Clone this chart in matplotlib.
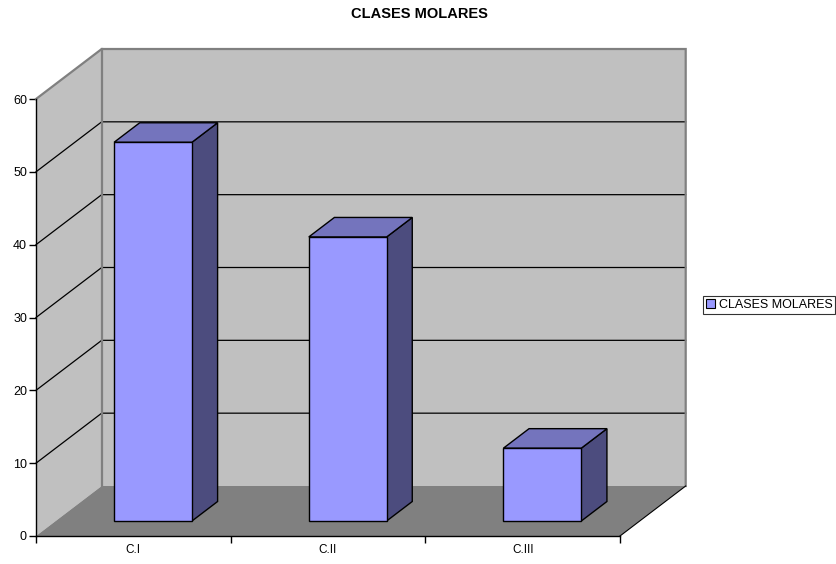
import matplotlib
matplotlib.use("Agg")
import matplotlib.pyplot as plt
from matplotlib.patches import Polygon, Patch

plt.rcParams['font.family'] = ['Liberation Sans', 'DejaVu Sans']

categories = ['C.I', 'C.II', 'C.III']
values = [52, 39, 10]
yticks = [0, 10, 20, 30, 40, 50, 60]
title = 'CLASES MOLARES'

# oblique depth offset (in data units) for the fake 3D box
DX, DY = 0.3375, 6.865
BAR_D0, BAR_D1 = 0.30, 0.69   # bar front/back depth fraction
BAR_W = 0.40

wall_c = '#c0c0c0'
floor_c = '#808080'
front_c = '#9999ff'
top_c = '#7474bd'
side_c = '#4c4c7e'


def proj(x, y, d):
    return (x + d * DX, y + d * DY)


fig = plt.figure(figsize=(8.37, 5.64), dpi=100)
ax = fig.add_axes([36 / 837, 28 / 564, 584 / 837, 437 / 564])
ax.set_facecolor('none')
ncat = len(categories)
ymax = yticks[-1]
ax.set_xlim(0, ncat)
ax.set_ylim(0, ymax)

# walls and floor
back = [proj(0, 0, 1), proj(ncat, 0, 1), proj(ncat, ymax, 1), proj(0, ymax, 1)]
left = [proj(0, 0, 0), proj(0, ymax, 0), proj(0, ymax, 1), proj(0, 0, 1)]
floor = [proj(0, 0, 0), proj(ncat, 0, 0), proj(ncat, 0, 1), proj(0, 0, 1)]
for pts, c in [(back, wall_c), (left, wall_c)]:
    ax.add_patch(Polygon(pts, closed=True, fc=c, ec='none', clip_on=False, zorder=1))

# gridlines running across left wall and back wall
for v in yticks[1:-1]:
    p = [proj(0, v, 0), proj(0, v, 1), proj(ncat, v, 1)]
    ax.plot([q[0] for q in p], [q[1] for q in p], color='black', lw=0.9,
            clip_on=False, zorder=2)

# grey wall borders
for p in [[proj(0, ymax, 0), proj(0, ymax, 1), proj(ncat, ymax, 1), proj(ncat, 0, 1)],
          [proj(0, ymax, 1), proj(0, 0, 1)]]:
    ax.plot([q[0] for q in p], [q[1] for q in p], color='#808080', lw=1.6,
            clip_on=False, zorder=2, solid_joinstyle='miter')

ax.add_patch(Polygon(floor, closed=True, fc=floor_c, ec='none', clip_on=False, zorder=3))
p = [proj(ncat, 0, 0), proj(ncat, 0, 1)]
ax.plot([q[0] for q in p], [q[1] for q in p], color='black', lw=0.8, clip_on=False, zorder=3)

# bars
for i, v in enumerate(values):
    x0 = i + 0.5 - BAR_W / 2
    x1 = i + 0.5 + BAR_W / 2
    front = [proj(x0, 0, BAR_D0), proj(x1, 0, BAR_D0), proj(x1, v, BAR_D0), proj(x0, v, BAR_D0)]
    top = [proj(x0, v, BAR_D0), proj(x1, v, BAR_D0), proj(x1, v, BAR_D1), proj(x0, v, BAR_D1)]
    side = [proj(x1, 0, BAR_D0), proj(x1, 0, BAR_D1), proj(x1, v, BAR_D1), proj(x1, v, BAR_D0)]
    for pts, c in [(side, side_c), (top, top_c), (front, front_c)]:
        ax.add_patch(Polygon(pts, closed=True, fc=c, ec='black', lw=1.0,
                             joinstyle='miter', clip_on=False, zorder=4))

# axes
for s in ['top', 'right']:
    ax.spines[s].set_visible(False)
for s in ['left', 'bottom']:
    ax.spines[s].set_color('black')
    ax.spines[s].set_linewidth(1.0)
    ax.spines[s].set_zorder(5)
ax.set_yticks(yticks)
ax.set_yticklabels([str(t) for t in yticks])
ax.tick_params(axis='y', direction='out', length=5, width=1, pad=1.5, labelsize=9)
ax.set_xticks(range(ncat + 1))
ax.set_xticklabels([])
ax.tick_params(axis='x', which='major', direction='out', length=5, width=1)
ax.set_xticks([i + 0.5 for i in range(ncat)], minor=True)
ax.set_xticklabels(categories, minor=True)
ax.tick_params(axis='x', which='minor', length=0, pad=6, labelsize=8.5)

fig.text(419 / 837, 1 - 14 / 564, title, ha='center', va='center',
         fontsize=10.5, fontweight='bold')

leg = fig.legend(handles=[Patch(fc=front_c, ec='black', lw=0.8, label=title)],
                 loc='center left', bbox_to_anchor=(703 / 837, 1 - 305 / 564),
                 frameon=True, fancybox=False, fontsize=9, handlelength=0.7,
                 handleheight=0.7, handletextpad=0.3, borderpad=0.25,
                 borderaxespad=0)
leg.get_frame().set_edgecolor('black')
leg.get_frame().set_linewidth(0.8)

fig.savefig('out.png', dpi=100)
